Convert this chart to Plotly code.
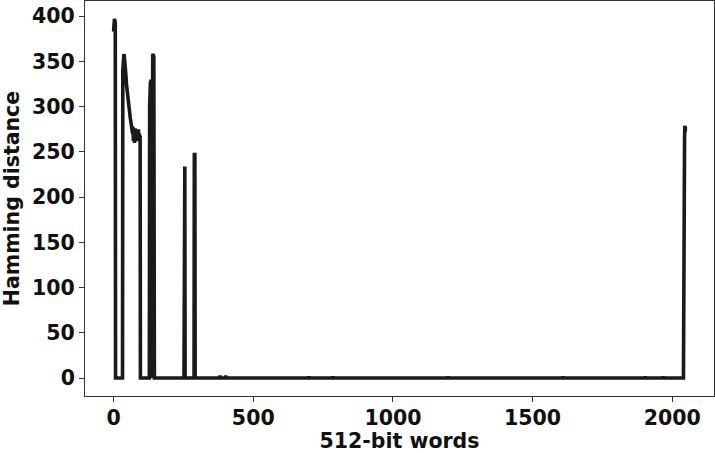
import plotly.graph_objects as go

# 512-bit word index and Hamming distance
word_index = [
    0, 1, 2, 3, 4, 5, 6, 7,
    32, 33, 34, 35, 36, 37, 38, 39, 40, 42, 44, 46, 48, 50, 52, 54, 56, 58, 60, 62, 64, 66,
    68, 69, 70, 71, 72, 73, 74, 75, 76, 77, 78, 79, 80, 81, 82, 84, 85, 86, 88, 89, 90, 92, 94, 95, 96,
    128, 129, 130, 131, 132, 133, 134, 135, 136, 137, 139, 140, 142, 144, 146,
    252, 253, 255, 256,
    288, 289, 291, 292,
    380, 381, 382, 400, 401, 402,
    698, 699, 700, 784, 785, 786, 1196, 1197, 1198, 1608, 1609, 1610,
    1902, 1903, 1904, 1966, 1967, 1968,
    2040, 2041, 2042, 2043, 2044, 2045, 2046, 2047,
]
hamming = [
    383, 390, 395, 397, 396, 394, 393, 0,
    0, 340, 352, 358, 356, 358, 357, 350, 355, 345, 335, 325, 318, 312, 305, 300, 296, 292, 287, 283, 280, 277,
    270, 278, 268, 262, 275, 265, 272, 260, 268, 276, 266, 270, 262, 274, 268, 272, 262, 270, 268, 275, 263, 270, 266, 268, 0,
    0, 300, 325, 322, 328, 320, 330, 325, 160, 0, 0, 357, 358, 355, 0,
    0, 234, 234, 0,
    0, 247, 247, 0,
    0, 3, 0, 0, 3, 0,
    0, 2, 0, 0, 2, 0, 0, 2, 0, 0, 2, 0,
    0, 2, 0, 0, 2, 0,
    0, 222, 258, 250, 265, 279, 272, 278,
]

x_ticks = [0, 500, 1000, 1500, 2000]
y_ticks = [0, 50, 100, 150, 200, 250, 300, 350, 400]

FONT = dict(family="DejaVu Sans", size=20.5, color="#111111", weight="bold")

fig = go.Figure(
    go.Scatter(
        x=word_index,
        y=hamming,
        mode="lines",
        line=dict(color="#1a1a1a", width=3.6),
        showlegend=False,
    )
)

axis_common = dict(
    showgrid=False,
    zeroline=False,
    showline=True,
    linecolor="#333333",
    linewidth=1,
    mirror=True,
    ticks="outside",
    ticklen=5,
    tickwidth=1,
    tickcolor="#333333",
    tickfont=FONT,
    automargin=False,
)

fig.update_layout(
    width=715,
    height=453,
    margin=dict(l=85, r=1, t=1, b=57),
    paper_bgcolor="white",
    plot_bgcolor="white",
    font=dict(family="DejaVu Sans", color="#111111"),
    xaxis=dict(
        range=[-102.35, 2149.35],
        tickvals=x_ticks,
        ticklabelstandoff=-2,
        title=dict(text="512-bit words", standoff=9, font=FONT),
        **axis_common,
    ),
    yaxis=dict(
        range=[-19.85, 416.85],
        tickvals=y_ticks,
        title=dict(text="Hamming distance", standoff=6, font=FONT),
        **axis_common,
    ),
)

fig.write_html(
    "out.html",
    config={"displayModeBar": False},
    post_script="document.body.style.margin='0';document.body.style.padding='0';",
)
